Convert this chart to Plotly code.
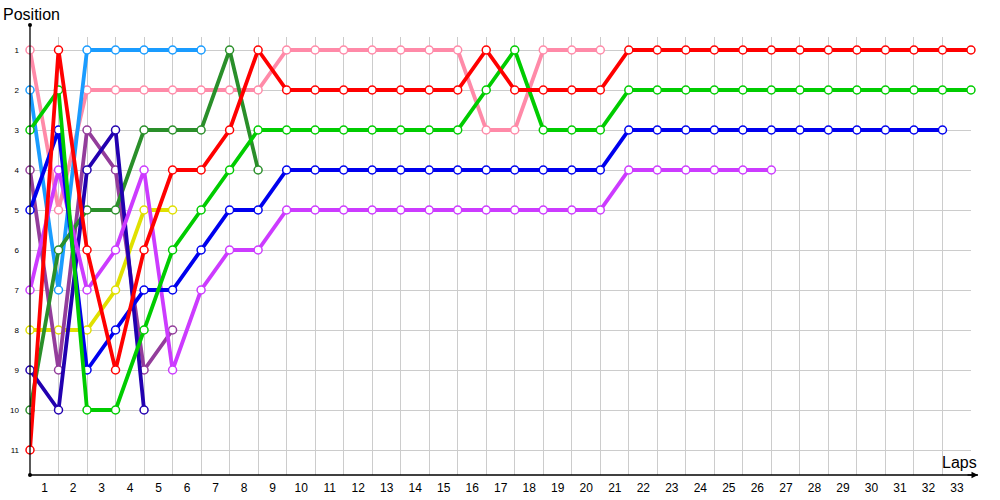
import plotly.graph_objects as go

laps = list(range(0, 34))

# Positions by lap (index 0 = start grid)
light_blue = [2, 7, 1, 1, 1, 1, 1]
pink = [1, 5, 2, 2, 2, 2, 2, 2, 2, 1, 1, 1, 1, 1, 1, 1, 3, 3, 1, 1, 1]
red = [11, 1, 6, 9, 6, 4, 4, 3, 1, 2, 2, 2, 2, 2, 2, 2, 1, 2, 2, 2, 2,
       1, 1, 1, 1, 1, 1, 1, 1, 1, 1, 1, 1, 1]
green = [3, 2, 10, 10, 8, 6, 5, 4, 3, 3, 3, 3, 3, 3, 3, 3, 2, 1, 3, 3, 3,
         2, 2, 2, 2, 2, 2, 2, 2, 2, 2, 2, 2, 2]
dark_green = [10, 6, 5, 5, 3, 3, 3, 1, 4]
blue = [5, 3, 9, 8, 7, 7, 6, 5, 5, 4, 4, 4, 4, 4, 4, 4, 4, 4, 4, 4, 4,
        3, 3, 3, 3, 3, 3, 3, 3, 3, 3, 3, 3]
navy = [9, 10, 4, 3, 10]
purple = [4, 9, 3, 4, 9, 8]
violet = [7, 4, 7, 6, 4, 9, 7, 6, 6, 5, 5, 5, 5, 5, 5, 5, 5, 5, 5, 5, 5,
          4, 4, 4, 4, 4, 4]
yellow = [8, 8, 8, 7, 5, 5]

series = [
    ("pink", pink, "#ff8aa8"),
    ("light_blue", light_blue, "#1a9cff"),
    ("yellow", yellow, "#e0e000"),
    ("purple", purple, "#933d9b"),
    ("dark_green", dark_green, "#2a8f2a"),
    ("navy", navy, "#2200b0"),
    ("violet", violet, "#cc3bff"),
    ("blue", blue, "#0000ee"),
    ("green", green, "#00cc00"),
    ("red", red, "#ff0000"),
]

position_ticks = list(range(1, 12))
lap_ticks = list(range(1, 34))
lap_labels = [str(v) for v in lap_ticks]

fig = go.Figure()
for name, vals, col in series:
    fig.add_trace(go.Scatter(
        x=laps[:len(vals)], y=vals, mode="lines+markers", name=name,
        line=dict(color=col, width=3.8),
        marker=dict(symbol="circle", size=8, color="white",
                    line=dict(color=col, width=1.5)),
        cliponaxis=False, showlegend=False, hoverinfo="skip",
    ))

ymin, ymax = 0.675, 11.625

fig.update_layout(
    width=1000, height=500,
    margin=dict(l=30, r=29, t=37, b=25),
    paper_bgcolor="white", plot_bgcolor="white",
    font=dict(family="Liberation Sans", color="black"),
    xaxis=dict(
        range=[0, 33.001], tickmode="array", tickvals=lap_ticks, ticktext=lap_labels,
        showgrid=True, gridcolor="#cccccc", gridwidth=1, zeroline=False,
        showline=False, ticks="", ticklabelshift=-14, ticklabelstandoff=4,
        tickfont=dict(size=12, family="Liberation Sans"), automargin=False,
    ),
    yaxis=dict(
        range=[ymax, ymin], tickmode="array", tickvals=position_ticks,
        ticktext=[str(v) for v in position_ticks],
        showgrid=True, gridcolor="#cccccc", gridwidth=1, zeroline=False,
        showline=False, ticks="", ticklabelstandoff=10,
        tickfont=dict(size=8, family="Liberation Sans"), automargin=False,
    ),
    yaxis2=dict(
        range=[ymax, ymin], overlaying="y", side="right", tickmode="array",
        tickvals=position_ticks, ticktext=[str(v) for v in position_ticks],
        showgrid=False, zeroline=False, showline=False, ticks="",
        ticklabelstandoff=7, tickfont=dict(size=8, family="Liberation Sans"),
        automargin=False,
    ),
)

top_ext = 1 + 12 / 438
right_ext = 1 + 7 / 941
fig.add_shape(type="line", xref="paper", yref="paper", x0=0, x1=0, y0=0, y1=top_ext,
              line=dict(color="black", width=1.3))
fig.add_shape(type="line", xref="paper", yref="paper", x0=0, x1=right_ext, y0=0, y1=0,
              line=dict(color="black", width=1.3))
for yy in (0, top_ext):
    fig.add_shape(type="circle", xref="paper", yref="paper", xsizemode="pixel",
                  ysizemode="pixel", xanchor=0, yanchor=yy, x0=-2, x1=2, y0=-2, y1=2,
                  fillcolor="black", line=dict(color="black", width=0))
fig.add_annotation(xref="paper", yref="paper", x=right_ext, y=0, ax=-12, ay=0,
                   axref="pixel", ayref="pixel", text="", showarrow=True,
                   arrowhead=2, arrowsize=1, arrowwidth=1.3, arrowcolor="black")

fig.add_annotation(xref="paper", yref="paper", x=-29 / 941, y=1 + 22 / 438,
                   xanchor="left", yanchor="middle", text="Position", showarrow=False,
                   font=dict(size=16, family="Liberation Sans", color="black"))
fig.add_annotation(xref="paper", yref="paper", x=(959 - 30) / 941, y=13 / 438,
                   xanchor="center", yanchor="middle", text="Laps", showarrow=False,
                   font=dict(size=16, family="Liberation Sans", color="black"))

# remove the browser's default 8px body margin so the figure sits at (0, 0)
fig.write_html("out.html", config={"displayModeBar": False},
               post_script="document.body.style.margin='0';")
